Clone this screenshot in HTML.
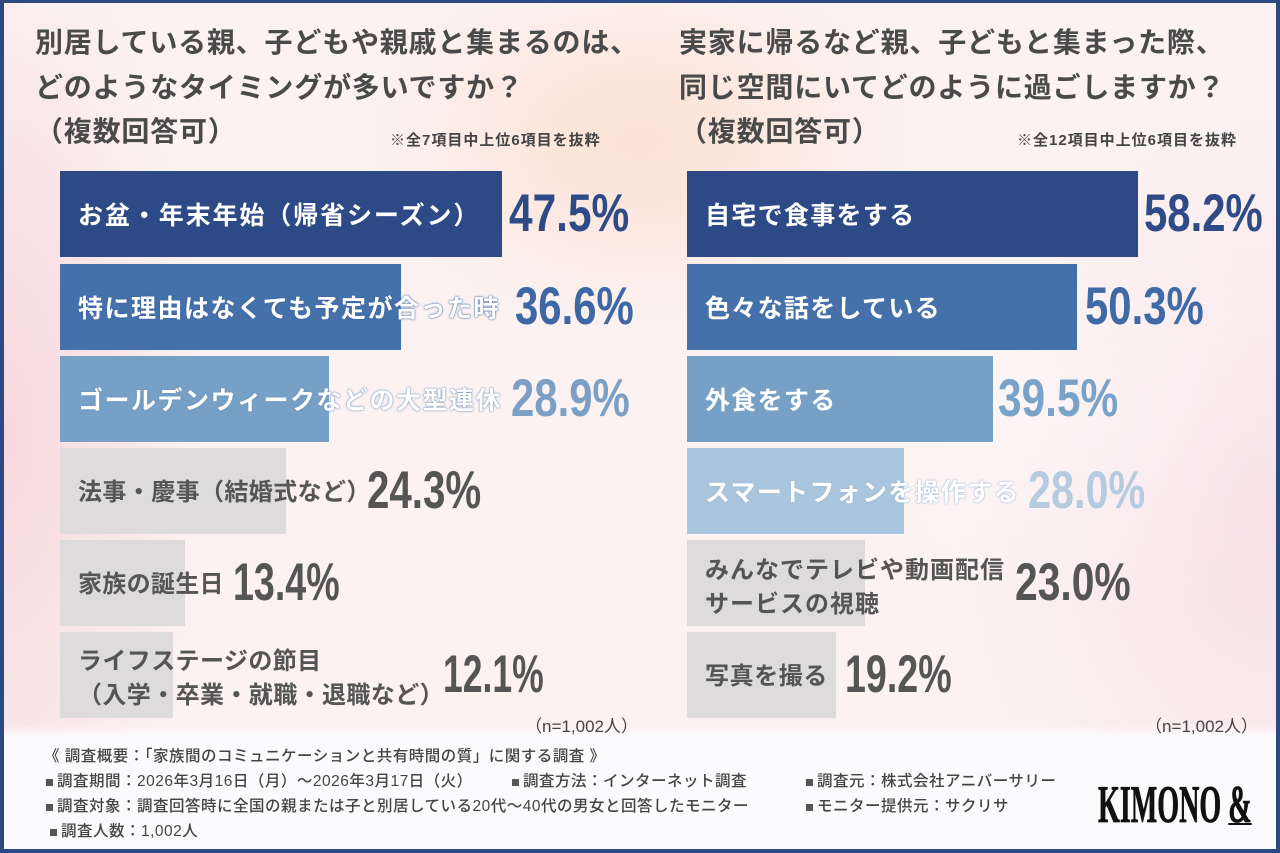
<!DOCTYPE html>
<html><head><meta charset="utf-8">
<style>
*{margin:0;padding:0;box-sizing:border-box}
html,body{width:1280px;height:853px;overflow:hidden}
body{position:relative;background:#2c4a82;font-family:"Liberation Sans","Noto Sans CJK JP",sans-serif;}
#bg{position:absolute;left:4px;top:3px;width:1272px;height:846px;
background:
 linear-gradient(to bottom, rgba(251,251,253,0) 722px, rgba(251,251,253,1) 734px),
 radial-gradient(ellipse 280px 190px at 636px 140px, rgba(251,220,200,0.75), rgba(251,220,200,0) 100%),
 radial-gradient(ellipse 200px 520px at 0px 430px, rgba(246,212,218,0.9), rgba(246,212,218,0)),
 radial-gradient(ellipse 320px 420px at 1272px 520px, rgba(247,220,228,0.75), rgba(247,220,228,0)),
 radial-gradient(ellipse 260px 200px at 1120px 420px, rgba(255,255,255,0.7), rgba(255,255,255,0)),
 #fcf2f2;}
.t{position:absolute;white-space:nowrap;}
.title{font-size:28px;line-height:44.5px;font-weight:700;color:#4a4a4a;letter-spacing:0.8px;}
.note{font-size:15px;line-height:18px;font-weight:700;color:#444;letter-spacing:1px;}
.bar{position:absolute;height:86px;}
.lab{position:absolute;height:86px;padding-top:4px;display:flex;align-items:center;font-size:25px;line-height:1;font-weight:700;letter-spacing:1.3px;white-space:nowrap;}
.lab2{position:absolute;font-size:24px;line-height:34px;font-weight:700;letter-spacing:0.4px;white-space:nowrap;color:#555;}
.w{color:#fff;}
.g{color:#555;font-size:24px;}
.pct{position:absolute;font-family:"Liberation Sans",sans-serif;font-weight:700;font-size:53px;line-height:53px;transform-origin:0 0;white-space:nowrap;}
.n{position:absolute;font-size:17px;line-height:20px;color:#444;white-space:nowrap;text-align:right;width:140px;}
.f{position:absolute;font-size:15.5px;line-height:20px;color:#444;letter-spacing:0.5px;white-space:nowrap;font-weight:500;}
.sq{position:absolute;width:7px;height:7px;background:#555;}
.logo{position:absolute;left:1098px;top:779px;font-family:"Liberation Serif",serif;font-weight:700;font-size:53px;line-height:53px;color:#111;transform:scaleX(0.53);transform-origin:0 0;white-space:nowrap;-webkit-text-stroke:0.8px #111;}
</style></head>
<body>
<div id="bg"></div>

<!-- Left title -->
<div class="t title" style="left:35px;top:21px;">別居している親、子どもや親戚と集まるのは、<br>どのようなタイミングが多いですか？<br>（複数回答可）</div>
<div class="t note" style="left:390px;top:132px;">※全7項目中上位6項目を抜粋</div>

<!-- Right title -->
<div class="t title" style="left:679px;top:21px;">実家に帰るなど親、子どもと集まった際、<br>同じ空間にいてどのように過ごしますか？<br>（複数回答可）</div>
<div class="t note" style="left:1017px;top:132px;">※全12項目中上位6項目を抜粋</div>

<!-- Left bars -->
<div class="bar" style="left:60px;top:171px;width:442px;background:#2d4a86;"></div>
<div class="bar" style="left:60px;top:264px;width:341px;background:#4571ab;"></div>
<div class="bar" style="left:60px;top:356px;width:269px;background:#77a0c6;"></div>
<div class="bar" style="left:60px;top:448px;width:226px;background:#dddbdb;"></div>
<div class="bar" style="left:60px;top:540px;width:125px;background:#dddbdb;"></div>
<div class="bar" style="left:60px;top:632px;width:113px;background:#dddbdb;"></div>

<div class="lab w" style="left:78px;top:171px;letter-spacing:1.9px;">お盆・年末年始（帰省シーズン）</div>
<div class="lab w" style="left:78px;top:264px;letter-spacing:1.5px;text-shadow:0 0 2px #3d64a0,0 0 1px #3d64a0;">特に理由はなくても予定が合った時</div>
<div class="lab w" style="left:78px;top:356px;letter-spacing:1.5px;text-shadow:0 0 2px #6b8fb5,0 0 1px #6b8fb5;">ゴールデンウィークなどの大型連休</div>
<div class="lab g" style="left:78px;top:448px;letter-spacing:0.4px;">法事・慶事（結婚式など）</div>
<div class="lab g" style="left:78px;top:540px;letter-spacing:0.3px;">家族の誕生日</div>
<div class="lab2" style="left:78px;top:645px;">ライフステージの節目<br>（入学・卒業・就職・退職など）</div>

<div class="pct" style="left:509px;top:187px;color:#2e4b87;transform:scaleX(0.80);">47.5%</div>
<div class="pct" style="left:515px;top:280px;color:#3d68a5;transform:scaleX(0.79);">36.6%</div>
<div class="pct" style="left:511px;top:372px;color:#7b9fc5;transform:scaleX(0.79);">28.9%</div>
<div class="pct" style="left:367px;top:464px;color:#555;transform:scaleX(0.76);">24.3%</div>
<div class="pct" style="left:233px;top:556px;color:#555;transform:scaleX(0.71);">13.4%</div>
<div class="pct" style="left:443px;top:648px;color:#555;transform:scaleX(0.67);">12.1%</div>

<div class="n" style="left:498px;top:717px;">（n=1,002人）</div>

<!-- Right bars -->
<div class="bar" style="left:687px;top:171px;width:451px;background:#2d4a86;"></div>
<div class="bar" style="left:687px;top:264px;width:390px;background:#4571ab;"></div>
<div class="bar" style="left:687px;top:356px;width:306px;background:#77a0c6;"></div>
<div class="bar" style="left:687px;top:448px;width:217px;background:#a9c6de;"></div>
<div class="bar" style="left:687px;top:540px;width:178px;background:#dddbdb;"></div>
<div class="bar" style="left:687px;top:632px;width:149px;background:#dddbdb;"></div>

<div class="lab w" style="left:705px;top:171px;">自宅で食事をする</div>
<div class="lab w" style="left:705px;top:264px;">色々な話をしている</div>
<div class="lab w" style="left:705px;top:356px;">外食をする</div>
<div class="lab w" style="left:705px;top:448px;text-shadow:0 0 2px #9ab6cf,0 0 1px #9ab6cf;">スマートフォンを操作する</div>
<div class="lab2" style="left:705px;top:554px;letter-spacing:1px;">みんなでテレビや動画配信<br>サービスの視聴</div>
<div class="lab g" style="left:705px;top:632px;letter-spacing:0.6px;">写真を撮る</div>

<div class="pct" style="left:1144px;top:187px;color:#2e4b87;transform:scaleX(0.79);">58.2%</div>
<div class="pct" style="left:1085px;top:280px;color:#3e6aa6;transform:scaleX(0.79);">50.3%</div>
<div class="pct" style="left:998px;top:372px;color:#79a2c9;transform:scaleX(0.80);">39.5%</div>
<div class="pct" style="left:1028px;top:464px;color:#b5cce0;transform:scaleX(0.78);">28.0%</div>
<div class="pct" style="left:1015px;top:556px;color:#555;transform:scaleX(0.77);">23.0%</div>
<div class="pct" style="left:845px;top:648px;color:#555;transform:scaleX(0.71);">19.2%</div>

<div class="n" style="left:1118px;top:717px;">（n=1,002人）</div>

<!-- Footer -->
<div class="f" style="left:44px;top:747px;">《 調査概要：「家族間のコミュニケーションと共有時間の質」に関する調査 》</div>

<div class="sq" style="left:46px;top:779px;"></div>
<div class="f" style="left:57px;top:772px;">調査期間：2026年3月16日（月）～2026年3月17日（火）</div>
<div class="sq" style="left:512px;top:779px;"></div>
<div class="f" style="left:523px;top:772px;">調査方法：インターネット調査</div>
<div class="sq" style="left:806px;top:779px;"></div>
<div class="f" style="left:817px;top:772px;">調査元：株式会社アニバーサリー</div>

<div class="sq" style="left:46px;top:804px;"></div>
<div class="f" style="left:57px;top:797px;">調査対象：調査回答時に全国の親または子と別居している20代～40代の男女と回答したモニター</div>
<div class="sq" style="left:806px;top:804px;"></div>
<div class="f" style="left:817px;top:797px;">モニター提供元：サクリサ</div>

<div class="sq" style="left:50px;top:829px;"></div>
<div class="f" style="left:61px;top:822px;">調査人数：1,002人</div>

<div class="logo">KIMONO <span style="text-decoration:underline;text-decoration-thickness:2px;">&amp;</span></div>
</body></html>
